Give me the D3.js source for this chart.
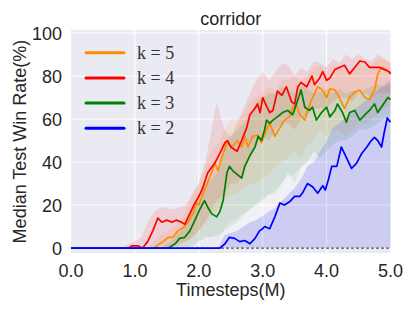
<!DOCTYPE html>
<html>
<head>
<meta charset="utf-8">
<script src="https://cdn.jsdelivr.net/npm/d3@7/dist/d3.min.js"></script>
<style>
  body { margin: 0; background: #fff; }
  svg text { font-family: "Liberation Sans", Arial, sans-serif; fill: #262626; }
</style>
</head>
<body>
<div id="chart"></div>
<script>
// ---- data (timesteps in M, win rate in %) ----
var xTicks = [0, 1, 2, 3, 4, 5];
var yTicks = [0, 20, 40, 60, 80, 100];
var names = ['k = 5', 'k = 4', 'k = 3', 'k = 2'];
var colors = ['#ff8c00', '#ff0000', '#008000', '#0000ff'];

// medians: [t, value]
var k5Median = [[0,0],[1.3,0],[1.34,1],[1.44,3],[1.52,5],[1.6,5],[1.67,8],[1.78,10],[1.83,12],[1.91,16],[1.97,21],[2.0,20],
  [2.05,24],[2.13,30],[2.2,35],[2.25,39.5],[2.3,36],[2.36,42],[2.44,49],[2.52,47],[2.6,50],[2.67,47],[2.72,52],[2.77,47],
  [2.84,52],[2.92,52.5],[2.98,49],[3.02,52],[3.06,55],[3.11,58],[3.19,52],[3.27,56],[3.34,59.5],[3.42,61],[3.47,65.5],
  [3.53,66.5],[3.58,62],[3.66,59.5],[3.7,64],[3.78,70],[3.86,75],[3.92,74],[4.0,70],[4.05,74],[4.13,73.5],[4.2,70],
  [4.28,65],[4.36,70],[4.44,72.5],[4.52,73.5],[4.6,70],[4.67,69],[4.75,73.5],[4.8,81],[4.86,84],[4.94,83],[5.0,81]];

var k4Median = [[0,0],[0.9,0],[0.95,1],[1.05,1],[1.12,0],[1.2,3],[1.28,8],[1.36,14],[1.42,12],[1.5,13],[1.58,12],[1.65,13],
  [1.73,12],[1.78,11],[1.86,16],[1.94,21],[2.0,24],[2.05,27],[2.14,35],[2.25,39.5],[2.33,44],[2.41,49],[2.45,50],[2.5,47],
  [2.6,45],[2.67,50],[2.75,56],[2.8,62],[2.88,65],[2.92,67],[2.96,63],[3.0,70],[3.06,66],[3.11,63],[3.16,64],[3.23,73],
  [3.3,71],[3.37,75],[3.45,68],[3.5,67],[3.55,75],[3.6,77],[3.69,75],[3.77,80],[3.81,76],[3.89,79],[3.94,82],[4.0,78],
  [4.05,79],[4.13,83],[4.2,84],[4.28,85],[4.36,81],[4.44,84],[4.52,87],[4.6,86.5],[4.67,84],[4.75,84],[4.83,84],[4.9,83],
  [4.98,82],[5.0,81]];

var k3Median = [[0,0],[1.5,0],[1.55,0.5],[1.63,2],[1.7,4.5],[1.78,5],[1.86,8],[1.94,13],[2.0,17],[2.05,20],[2.09,22],
  [2.14,19],[2.2,16],[2.28,14.5],[2.33,17],[2.38,22],[2.44,35],[2.48,38],[2.53,36],[2.61,34],[2.67,32.5],[2.72,38],
  [2.8,43],[2.88,47],[2.93,52],[2.98,50],[3.03,55],[3.06,59.5],[3.11,58],[3.16,59.5],[3.23,61],[3.31,63],[3.39,64],
  [3.47,62],[3.55,69],[3.6,73.5],[3.66,65.5],[3.73,64],[3.78,65.5],[3.84,59.5],[3.92,63],[4.0,65.5],[4.05,61],[4.13,64],
  [4.17,67],[4.25,63],[4.31,58.5],[4.36,63],[4.44,64],[4.52,59.5],[4.6,62],[4.67,64],[4.75,67],[4.8,63],[4.88,66.5],
  [4.96,70],[5.0,69]];

var k2Median = [[0,0],[2.33,0],[2.41,2],[2.48,5],[2.56,4.5],[2.64,3],[2.72,3.5],[2.8,2],[2.88,4.5],[2.95,8],[3.0,9],
  [3.03,10],[3.11,9],[3.19,14.5],[3.27,21],[3.34,20],[3.42,21.5],[3.5,24],[3.58,24],[3.63,26],[3.7,30],[3.78,28.5],
  [3.86,25.5],[3.94,29],[3.98,27],[4.03,32],[4.08,38],[4.16,38],[4.23,47],[4.31,42],[4.39,37],[4.47,39.5],[4.55,44],
  [4.63,47],[4.7,50],[4.75,51.5],[4.8,50],[4.86,47],[4.9,53.5],[4.95,60.5],[5.0,58.5]];

// shaded bands: [t, low, high]
var k5Band = [[0,0,0],[1.2,0,0],[1.3,0,3],[1.4,0,6],[1.5,0,8],[1.6,0,10],[1.7,1,12],[1.8,3,18],[1.9,5,25],[2.0,8,30],
  [2.1,12,38],[2.2,15,45],[2.3,18,48],[2.4,22,55],[2.5,25,60],[2.6,25,60],[2.7,28,62],[2.8,30,68],[2.9,30,70],[3.0,32,72],
  [3.1,35,75],[3.2,38,73],[3.3,40,78],[3.4,42,78],[3.5,45,80],[3.6,42,78],[3.7,48,80],[3.8,50,84],[3.9,55,85],[4.0,52,82],
  [4.1,55,85],[4.2,55,84],[4.3,52,82],[4.4,55,84],[4.5,58,86],[4.6,58,84],[4.7,60,85],[4.8,62,88],[4.9,65,88],[5.0,66,86]];

var k4Band = [[0,0,0],[0.8,0,0],[0.9,0,2],[1.0,0,3],[1.1,0,5],[1.2,0,12],[1.3,0,17],[1.4,0,19],[1.6,1,18],[1.8,3,20],
  [1.9,5,25],[2.0,8,30],[2.1,12,40],[2.2,18,55],[2.28,22,68],[2.4,25,55],[2.5,30,52],[2.6,30,58],[2.7,35,65],[2.8,42,72],
  [2.9,48,78],[3.0,52,82],[3.1,50,78],[3.2,55,82],[3.3,58,86],[3.4,58,85],[3.5,55,80],[3.6,60,84],[3.7,62,82],[3.8,65,87],
  [3.9,65,86],[4.0,65,84],[4.1,68,88],[4.2,70,86],[4.3,70,90],[4.4,68,88],[4.5,72,90],[4.6,72,88],[4.7,70,87],[4.8,72,90],
  [4.9,72,88],[5.0,72,86]];

var k3Band = [[0,0,0],[1.4,0,0],[1.5,0,2],[1.6,0,4],[1.7,0,8],[1.8,0,12],[1.9,1,18],[2.0,3,25],[2.1,5,30],[2.2,5,32],
  [2.3,6,36],[2.4,8,48],[2.5,10,52],[2.6,12,55],[2.7,15,58],[2.8,18,62],[2.9,20,68],[3.0,22,70],[3.1,25,72],[3.2,25,72],
  [3.3,30,75],[3.4,35,74],[3.5,30,72],[3.6,38,76],[3.7,40,74],[3.8,45,72],[3.9,42,73],[4.0,45,74],[4.1,48,72],[4.2,50,74],
  [4.3,50,72],[4.4,52,73],[4.5,55,72],[4.6,55,74],[4.7,56,75],[4.8,58,76],[4.9,60,75],[5.0,62,76]];

var k2Band = [[0,0,0],[2.3,0,0],[2.35,0,3],[2.4,0,6],[2.5,0,7],[2.6,0,8],[2.7,0,10],[2.8,0,12],[2.9,0,13],[3.0,0,15],
  [3.1,0,17],[3.2,0,19],[3.3,0,22],[3.4,0,25],[3.5,0,28],[3.6,0,32],[3.7,0,38],[3.8,0,40],[3.9,0,45],[4.0,0,50],
  [4.1,0,56],[4.2,0,58],[4.3,0,61],[4.4,0,64],[4.5,0,66],[4.6,0,68],[4.7,0,71],[4.8,0,73],[4.9,0,76],[5.0,0,78]];

// pale strip above the k=2 band
var k2Pale = [[2.3,0,0],[2.35,3,5],[2.4,6,9],[2.5,7,12],[2.6,8,14],[2.7,10,16],[2.8,12,18],[2.9,13,21],[3.0,15,23],
  [3.1,17,25],[3.2,19,27],[3.3,22,30],[3.4,25,33],[3.5,28,35],[3.6,32,37],[3.7,38,40],[3.8,40,41]];

var medians = [k5Median, k4Median, k3Median, k2Median];
var bands = [k5Band, k4Band, k3Band, k2Band];

var W = 415, H = 311;
var pLeft = 71, pRight = 390.5, pTop = 30, pBottom = 253;

var svg = d3.select('#chart').append('svg')
    .attr('width', W).attr('height', H);

var x = d3.scaleLinear().domain([0, 5]).range([pLeft, pRight]);
var y = d3.scaleLinear().domain([-2.3, 101.4]).range([pBottom, pTop]);

// background + grid (seaborn darkgrid look)
svg.append('rect')
    .attr('x', pLeft).attr('y', pTop)
    .attr('width', pRight - pLeft).attr('height', pBottom - pTop)
    .attr('fill', '#eaeaf2');

svg.append('g').selectAll('line')
    .data(xTicks.slice(1, -1)).enter().append('line')
    .attr('x1', function(d){ return x(d); }).attr('x2', function(d){ return x(d); })
    .attr('y1', pTop).attr('y2', pBottom)
    .attr('stroke', '#fff').attr('stroke-width', 1);

svg.append('g').selectAll('line')
    .data(yTicks).enter().append('line')
    .attr('x1', pLeft).attr('x2', pRight)
    .attr('y1', function(d){ return y(d); }).attr('y2', function(d){ return y(d); })
    .attr('stroke', '#fff').attr('stroke-width', 1);

var area = d3.area()
    .x(function(d){ return x(d[0]); })
    .y0(function(d){ return y(d[1]); })
    .y1(function(d){ return y(d[2]); });

var line = d3.line()
    .x(function(d){ return x(d[0]); })
    .y(function(d){ return y(d[1]); });

var plot = svg.append('g');

bands.forEach(function(b, i) {
  plot.append('path')
      .attr('d', area(b))
      .attr('fill', colors[i])
      .attr('fill-opacity', i == 3 ? 0.12 : 0.11);
});

plot.append('path')
    .attr('d', area(k2Pale))
    .attr('fill', '#ffffff')
    .attr('fill-opacity', 0.3);

// zero reference line
plot.append('line')
    .attr('x1', x(0)).attr('x2', x(5))
    .attr('y1', y(0)).attr('y2', y(0))
    .attr('stroke', '#555').attr('stroke-width', 1.3)
    .attr('stroke-dasharray', '3,2');

medians.forEach(function(m, i) {
  plot.append('path')
      .attr('d', line(m))
      .attr('fill', 'none')
      .attr('stroke', colors[i])
      .attr('stroke-width', 1.7)
      .attr('stroke-linejoin', 'round');
});

// ticks
svg.append('g').selectAll('text')
    .data(xTicks).enter().append('text')
    .attr('x', function(d){ return x(d); })
    .attr('y', 277)
    .attr('text-anchor', 'middle')
    .style('font-size', '18px')
    .text(function(d){ return d3.format('.1f')(d); });

svg.append('g').selectAll('text')
    .data(yTicks).enter().append('text')
    .attr('x', 62)
    .attr('y', function(d){ return y(d) + 6.5; })
    .attr('text-anchor', 'end')
    .style('font-size', '18px')
    .text(function(d){ return d; });

// labels
svg.append('text')
    .attr('x', (pLeft + pRight) / 2).attr('y', 296)
    .attr('text-anchor', 'middle')
    .style('font-size', '18px')
    .text('Timesteps(M)');

svg.append('text')
    .attr('transform', 'translate(26,' + ((pTop + pBottom) / 2) + ') rotate(-90)')
    .attr('text-anchor', 'middle')
    .style('font-size', '18px')
    .text('Median Test Win Rate(%)');

svg.append('text')
    .attr('x', (pLeft + pRight) / 2).attr('y', 25)
    .attr('text-anchor', 'middle')
    .style('font-size', '18px')
    .text('corridor');

// legend
var legend = svg.append('g');
names.forEach(function(n, i) {
  var ly = 52.7 + i * 25.2;
  legend.append('line')
      .attr('x1', 86).attr('x2', 124)
      .attr('y1', ly).attr('y2', ly)
      .attr('stroke', colors[i]).attr('stroke-width', 3)
      .attr('stroke-linecap', 'round');
  legend.append('text')
      .attr('x', 137).attr('y', ly + 6)
      .style('font-family', '"Liberation Serif", "Times New Roman", serif')
      .style('font-size', '18px')
      .style('fill', '#333')
      .text(n);
});
</script>
</body>
</html>
